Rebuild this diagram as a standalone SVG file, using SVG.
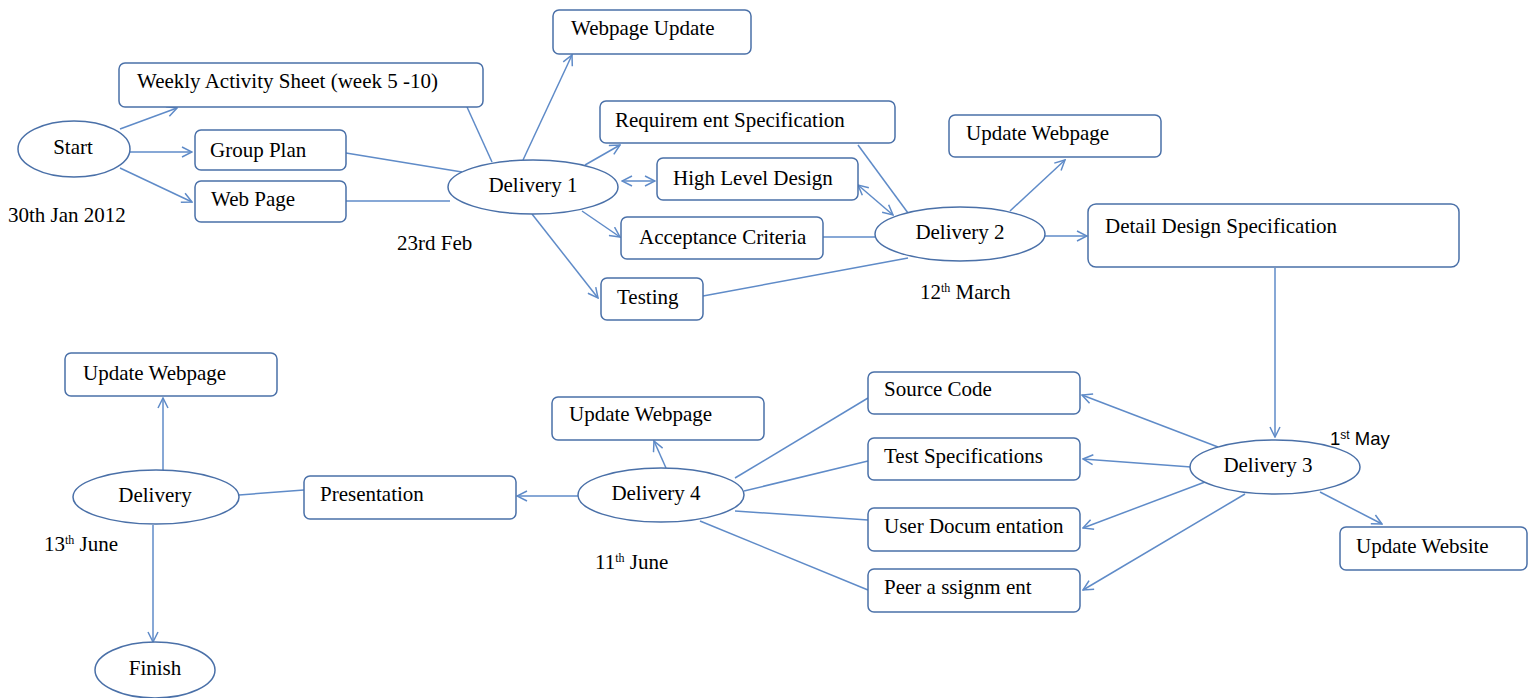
<svg xmlns="http://www.w3.org/2000/svg" width="1535" height="698" viewBox="0 0 1535 698">
<style>
.box{fill:#fff;stroke:#4a70a8;stroke-width:1.5}
.ell{fill:#fff;stroke:#4a70a8;stroke-width:1.5}
.c{stroke:#5f8bc8;stroke-width:1.5;fill:none}
.a{marker-end:url(#ah)}
.d{marker-start:url(#ahs);marker-end:url(#ah)}
text{font-family:"Liberation Serif","Times New Roman",serif;font-size:21px;fill:#000}
.m{text-anchor:middle}
.sans{font-family:"Liberation Sans",Arial,sans-serif;font-size:18.5px}
.sup{font-size:12px}
</style>
<defs>
<marker id="ah" viewBox="0 0 12 12" refX="11" refY="6" markerWidth="12" markerHeight="12" markerUnits="userSpaceOnUse" orient="auto">
<path d="M1,1 L11,6 L1,11" fill="none" stroke="#5f8bc8" stroke-width="1.5"/>
</marker>
<marker id="ahs" viewBox="0 0 12 12" refX="1" refY="6" markerWidth="12" markerHeight="12" markerUnits="userSpaceOnUse" orient="auto">
<path d="M11,1 L1,6 L11,11" fill="none" stroke="#5f8bc8" stroke-width="1.5"/>
</marker>
</defs>
<rect width="1535" height="698" fill="#fff"/>
<g id="connectors">
<line class="c a" x1="120" y1="129" x2="177" y2="108"/>
<line class="c a" x1="130" y1="152" x2="192" y2="152"/>
<line class="c a" x1="120" y1="168" x2="192" y2="202"/>
<line class="c" x1="467" y1="107" x2="492" y2="162"/>
<line class="c" x1="346" y1="153" x2="462" y2="172"/>
<line class="c" x1="346" y1="201" x2="450" y2="201"/>
<line class="c a" x1="523" y1="160" x2="572" y2="55"/>
<line class="c a" x1="585" y1="165" x2="620" y2="145"/>
<line class="c d" x1="622" y1="181" x2="655" y2="181"/>
<line class="c a" x1="582" y1="211" x2="620" y2="237"/>
<line class="c a" x1="532" y1="214" x2="598" y2="298"/>
<line class="c" x1="858" y1="145" x2="908" y2="213"/>
<line class="c d" x1="858" y1="185" x2="893" y2="215"/>
<line class="c" x1="823" y1="237" x2="876" y2="237"/>
<line class="c" x1="703" y1="296" x2="908" y2="258"/>
<line class="c a" x1="1010" y1="211" x2="1065" y2="160"/>
<line class="c a" x1="1045" y1="236" x2="1087" y2="236"/>
<line class="c a" x1="1275" y1="268" x2="1275" y2="437"/>
<line class="c a" x1="1218" y1="447" x2="1082" y2="395"/>
<line class="c a" x1="1191" y1="467" x2="1083" y2="459"/>
<line class="c a" x1="1205" y1="482" x2="1083" y2="528"/>
<line class="c a" x1="1245" y1="494" x2="1083" y2="590"/>
<line class="c a" x1="1320" y1="492" x2="1382" y2="524"/>
<line class="c" x1="735" y1="478" x2="868" y2="398"/>
<line class="c" x1="744" y1="491" x2="868" y2="461"/>
<line class="c" x1="735" y1="511" x2="868" y2="520"/>
<line class="c" x1="700" y1="521" x2="868" y2="590"/>
<line class="c a" x1="666" y1="468" x2="654" y2="441"/>
<line class="c a" x1="578" y1="496" x2="517" y2="496"/>
<line class="c" x1="304" y1="490" x2="239" y2="495"/>
<line class="c a" x1="163" y1="470" x2="163" y2="398"/>
<line class="c a" x1="153" y1="525" x2="153" y2="642"/>
</g>
<g id="start"><ellipse class="ell" cx="74" cy="149" rx="56" ry="28"/><text class="m" x="73" y="154">Start</text></g>
<g id="weekly"><rect class="box" x="119" y="63" width="364" height="44" rx="6"/><text x="137" y="88">Weekly Activity Sheet (week 5 -10)</text></g>
<g id="groupplan"><rect class="box" x="195" y="130" width="151" height="40" rx="6"/><text x="210" y="157">Group Plan</text></g>
<g id="webpage"><rect class="box" x="195" y="181" width="151" height="41" rx="6"/><text x="211" y="206">Web Page</text></g>
<g id="date1"><text x="8" y="222">30th Jan 2012</text></g>
<g id="delivery1"><ellipse class="ell" cx="533" cy="187" rx="85" ry="27"/><text class="m" x="533" y="192">Delivery 1</text></g>
<g id="date2"><text x="397" y="250">23rd Feb</text></g>
<g id="webpageupdate"><rect class="box" x="553" y="10" width="198" height="44" rx="6"/><text x="571" y="35">Webpage Update</text></g>
<g id="reqspec"><rect class="box" x="600" y="101" width="295" height="42" rx="6"/><text x="615" y="127">Requirem ent Specification</text></g>
<g id="hld"><rect class="box" x="657" y="158" width="201" height="42" rx="6"/><text x="673" y="185">High Level Design</text></g>
<g id="acceptance"><rect class="box" x="621" y="217" width="202" height="42" rx="6"/><text x="639" y="244">Acceptance Criteria</text></g>
<g id="testing"><rect class="box" x="601" y="278" width="102" height="42" rx="6"/><text x="617" y="304">Testing</text></g>
<g id="delivery2"><ellipse class="ell" cx="960" cy="234" rx="85" ry="27"/><text class="m" x="960" y="239">Delivery 2</text></g>
<g id="date3"><text x="920" y="299">12<tspan class="sup" dy="-7">th</tspan><tspan dy="7"> March</tspan></text></g>
<g id="updatewebpage1"><rect class="box" x="949" y="115" width="212" height="42" rx="6"/><text x="966" y="140">Update Webpage</text></g>
<g id="detaildesign"><rect class="box" x="1088" y="204" width="371" height="63" rx="8"/><text x="1105" y="233">Detail Design Specification</text></g>
<g id="delivery3"><ellipse class="ell" cx="1275" cy="467" rx="85" ry="27"/><text class="m" x="1268" y="472">Delivery 3</text></g>
<g id="date4"><text class="sans" x="1330" y="445">1<tspan class="sup" dy="-6">st</tspan><tspan dy="6"> May</tspan></text></g>
<g id="updatewebsite"><rect class="box" x="1340" y="527" width="187" height="43" rx="6"/><text x="1356" y="553">Update Website</text></g>
<g id="sourcecode"><rect class="box" x="868" y="372" width="212" height="42" rx="6"/><text x="884" y="396">Source Code</text></g>
<g id="testspec"><rect class="box" x="868" y="438" width="212" height="42" rx="6"/><text x="884" y="463">Test Specifications</text></g>
<g id="userdoc"><rect class="box" x="868" y="508" width="212" height="43" rx="6"/><text x="884" y="533">User Docum entation</text></g>
<g id="peer"><rect class="box" x="868" y="569" width="212" height="43" rx="6"/><text x="884" y="594">Peer a ssignm ent</text></g>
<g id="delivery4"><ellipse class="ell" cx="661" cy="495" rx="83" ry="27"/><text class="m" x="656" y="500">Delivery 4</text></g>
<g id="date5"><text x="595" y="569">11<tspan class="sup" dy="-7">th</tspan><tspan dy="7"> June</tspan></text></g>
<g id="updatewebpage2"><rect class="box" x="552" y="397" width="212" height="43" rx="6"/><text x="569" y="421">Update Webpage</text></g>
<g id="presentation"><rect class="box" x="304" y="476" width="212" height="43" rx="6"/><text x="320" y="501">Presentation</text></g>
<g id="delivery"><ellipse class="ell" cx="156" cy="497" rx="83" ry="27"/><text class="m" x="155" y="502">Delivery</text></g>
<g id="updatewebpage3"><rect class="box" x="65" y="353" width="212" height="43" rx="6"/><text x="83" y="380">Update Webpage</text></g>
<g id="date6"><text x="44" y="551">13<tspan class="sup" dy="-7">th</tspan><tspan dy="7"> June</tspan></text></g>
<g id="finish"><ellipse class="ell" cx="155" cy="670" rx="60" ry="28"/><text class="m" x="155" y="675">Finish</text></g>
</svg>
